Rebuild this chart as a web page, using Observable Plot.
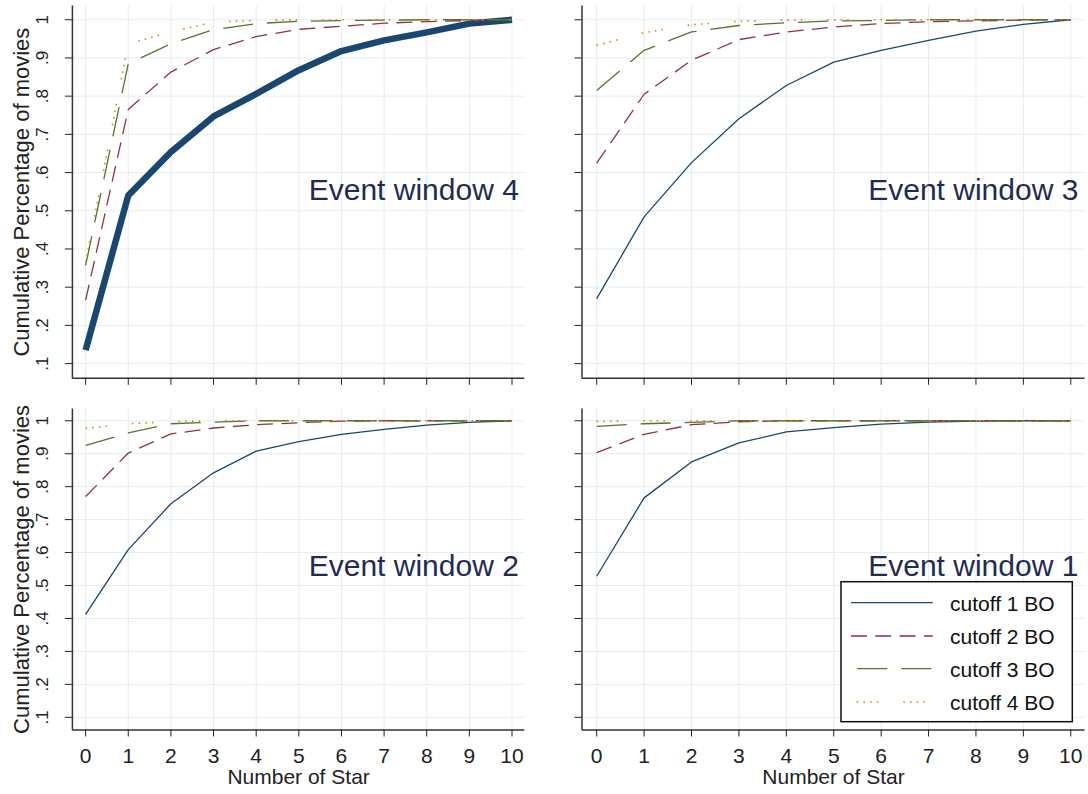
<!DOCTYPE html>
<html><head><meta charset="utf-8">
<script src="https://cdn.jsdelivr.net/npm/d3@7"></script>
<script src="https://cdn.jsdelivr.net/npm/@observablehq/plot@0.6"></script>
<style>
html,body{margin:0;padding:0;background:#fff;}
#chart{position:relative;width:1088px;height:794px;overflow:hidden;font-family:"Liberation Sans",Arial,sans-serif;background:#fff;}
</style></head><body><div id="chart"></div>
<script>
// ---- data ----
const stars = [0, 1, 2, 3, 4, 5, 6, 7, 8, 9, 10];
const cutoffs = ["cutoff 1 BO", "cutoff 2 BO", "cutoff 3 BO", "cutoff 4 BO"];
const windowTitles = ["Event window 4", "Event window 3", "Event window 2", "Event window 1"];
const yTickValues = [0.1, 0.2, 0.3, 0.4, 0.5, 0.6, 0.7, 0.8, 0.9, 1];
const yTickLabels = [".1", ".2", ".3", ".4", ".5", ".6", ".7", ".8", ".9", "1"];
const xTitle = "Number of Star";
const yTitle = "Cumulative Percentage of movies";

// Event window 4
const w4_c1 = [0.135, 0.540, 0.654, 0.747, 0.806, 0.868, 0.918, 0.946, 0.967, 0.990, 1.0];
const w4_c2 = [0.266, 0.765, 0.863, 0.922, 0.956, 0.975, 0.983, 0.991, 0.995, 0.998, 1.0];
const w4_c3 = [0.357, 0.885, 0.937, 0.974, 0.990, 0.996, 0.998, 0.999, 1.0, 1.0, 1.0];
const w4_c4 = [0.365, 0.937, 0.968, 0.994, 0.998, 1.0, 1.0, 1.0, 1.0, 1.0, 1.0];
// Event window 3
const w3_c1 = [0.270, 0.484, 0.626, 0.741, 0.828, 0.889, 0.920, 0.946, 0.970, 0.988, 1.0];
const w3_c2 = [0.625, 0.805, 0.894, 0.948, 0.968, 0.981, 0.990, 0.995, 0.997, 0.999, 1.0];
const w3_c3 = [0.815, 0.920, 0.968, 0.985, 0.992, 0.997, 0.998, 1.0, 1.0, 1.0, 1.0];
const w3_c4 = [0.933, 0.966, 0.987, 0.996, 0.999, 1.0, 1.0, 1.0, 1.0, 1.0, 1.0];
// Event window 2
const w2_c1 = [0.4125, 0.609, 0.748, 0.842, 0.908, 0.937, 0.959, 0.974, 0.987, 0.995, 1.0];
const w2_c2 = [0.770, 0.902, 0.960, 0.978, 0.988, 0.994, 0.999, 1.0, 1.0, 1.0, 1.0];
const w2_c3 = [0.925, 0.963, 0.991, 0.996, 1.0, 1.0, 1.0, 1.0, 1.0, 1.0, 1.0];
const w2_c4 = [0.977, 0.991, 0.997, 1.0, 1.0, 1.0, 1.0, 1.0, 1.0, 1.0, 1.0];
// Event window 1
const w1_c1 = [0.528, 0.766, 0.875, 0.933, 0.966, 0.979, 0.990, 0.996, 0.999, 1.0, 1.0];
const w1_c2 = [0.903, 0.959, 0.988, 0.997, 1.0, 1.0, 1.0, 1.0, 1.0, 1.0, 1.0];
const w1_c3 = [0.983, 0.991, 0.995, 1.0, 1.0, 1.0, 1.0, 1.0, 1.0, 1.0, 1.0];
const w1_c4 = [0.998, 1.0, 1.0, 1.0, 1.0, 1.0, 1.0, 1.0, 1.0, 1.0, 1.0];

// ---- styles ----
const colors = ["#1a476f", "#90353b", "#55752f", "#e37e00"];
const dashes = [null, "16 8.3", "30 14", "1.5 5.2 1.5 5.2 1.5 5.2 1.5 25"];
const gridColor = "#e4edf0";
const axisColor = "#333";
const titleColor = "#1f2b55";
const xDomain = [-0.31, 10.3];
const yDomain = [0.0615, 1.036];
const FONT = "'Liberation Sans', Arial, sans-serif";

const chart = document.getElementById("chart");

function drawPanel(cfg) {
  const table = [];
  cfg.series.forEach((vals, i) => vals.forEach((v, j) => table.push({cutoff: cutoffs[i], star: stars[j], share: v})));
  const marks = [
    Plot.gridX(stars, {stroke: gridColor, strokeOpacity: 1, strokeWidth: 1}),
    Plot.gridY(yTickValues, {stroke: gridColor, strokeOpacity: 1, strokeWidth: 1})
  ];
  cutoffs.forEach((c, i) => {
    marks.push(Plot.line(table.filter(d => d.cutoff === c), {
      x: "star", y: "share", stroke: colors[i],
      strokeWidth: (cfg.thick && i === 0) ? 6.5 : (i === 3 ? 1.6 : 1.3),
      strokeDasharray: dashes[i] || undefined,
      strokeLinejoin: "round", strokeLinecap: "butt"
    }));
  });
  marks.push(Plot.ruleX([xDomain[0]], {stroke: axisColor, strokeWidth: 1.5}));
  marks.push(Plot.ruleY([yDomain[0]], {stroke: axisColor, strokeWidth: 1.5}));
  marks.push(Plot.axisX(stars, {tickSize: 7, tickPadding: 11, fontSize: 21, label: null,
    tickFormat: cfg.xLabels ? (d => String(d)) : (() => "")}));
  marks.push(Plot.axisY(yTickValues, {tickSize: 7, label: null, tickFormat: () => ""}));
  if (cfg.yLabels) {
    marks.push(Plot.text(yTickValues, {y: d => d, text: (d, i) => yTickLabels[i], frameAnchor: "left", dx: -24.4,
      rotate: -90, textAnchor: "middle", lineAnchor: "bottom", fontSize: 17, fill: "#222", ariaLabel: "ytick"}));
    marks.push(Plot.text([yTitle], {text: d => d, frameAnchor: "left", dx: -50.6, rotate: -90,
      textAnchor: "middle", lineAnchor: "middle", fontSize: 22, fill: "#222"}));
  }
  if (cfg.xLabels) {
    marks.push(Plot.text([xTitle], {text: d => d, frameAnchor: "bottom", dy: 54, lineAnchor: "bottom", fontSize: 21, fill: "#222"}));
  }
  marks.push(Plot.text([cfg.title], {x: 10.16, y: 0.528, text: d => d, textAnchor: "end", lineAnchor: "bottom",
    fontSize: 30, fill: titleColor}));

  const svg = Plot.plot({
    width: cfg.w, height: cfg.h,
    marginLeft: cfg.fl - cfg.left, marginRight: cfg.left + cfg.w - cfg.fr,
    marginTop: cfg.ft - cfg.top, marginBottom: cfg.top + cfg.h - cfg.fb,
    x: {domain: xDomain},
    y: {domain: yDomain},
    style: {fontFamily: FONT, color: "#222", background: "transparent", overflow: "visible"},
    marks
  });
  svg.style.position = "absolute";
  svg.style.left = cfg.left + "px";
  svg.style.top = cfg.top + "px";
  d3.select(svg).selectAll('g[aria-label="ytick"] text').each(function () {
    const t = this.getAttribute("transform") || "";
    this.setAttribute("transform", t + " scale(1.3,1)");
  });
  chart.appendChild(svg);
}

drawPanel({title: windowTitles[0], series: [w4_c1, w4_c2, w4_c3, w4_c4], thick: true, xLabels: false, yLabels: true,
  left: 0, top: 0, w: 540, h: 395, fl: 71.9, fr: 524.3, ft: 5.5, fb: 377.8});
drawPanel({title: windowTitles[1], series: [w3_c1, w3_c2, w3_c3, w3_c4], thick: false, xLabels: false, yLabels: false,
  left: 545, top: 0, w: 543, h: 395, fl: 581.5, fr: 1084.5, ft: 5.5, fb: 377.8});
drawPanel({title: windowTitles[2], series: [w2_c1, w2_c2, w2_c3, w2_c4], thick: false, xLabels: true, yLabels: true,
  left: 0, top: 395, w: 540, h: 399, fl: 71.9, fr: 524.3, ft: 408.4, fb: 729.5});
drawPanel({title: windowTitles[3], series: [w1_c1, w1_c2, w1_c3, w1_c4], thick: false, xLabels: true, yLabels: false,
  left: 545, top: 395, w: 543, h: 399, fl: 581.5, fr: 1084.5, ft: 408.4, fb: 729.5});

// ---- legend (inside bottom-right panel) ----
const leg = d3.create("svg").attr("width", 238).attr("height", 146)
  .style("position", "absolute").style("left", "838px").style("top", "579px")
  .style("font-family", FONT);
leg.append("rect").attr("x", 3).attr("y", 2.7).attr("width", 231.3).attr("height", 140)
  .attr("fill", "#fff").attr("stroke", "#111").attr("stroke-width", 1.5);
const rowY = [23.7, 57, 89.7, 123];
const offsets = [0, 0, 37.7, 40.9];
cutoffs.forEach((c, i) => {
  leg.append("line").attr("x1", 13).attr("x2", 94.7).attr("y1", rowY[i]).attr("y2", rowY[i])
    .attr("stroke", colors[i]).attr("stroke-width", i === 3 ? 1.6 : 1.3)
    .attr("stroke-dasharray", dashes[i]).attr("stroke-dashoffset", offsets[i]);
  leg.append("text").attr("x", 112).attr("y", rowY[i] + 8).attr("font-size", 21).attr("fill", "#111").text(c);
});
chart.appendChild(leg.node());
</script></body></html>
